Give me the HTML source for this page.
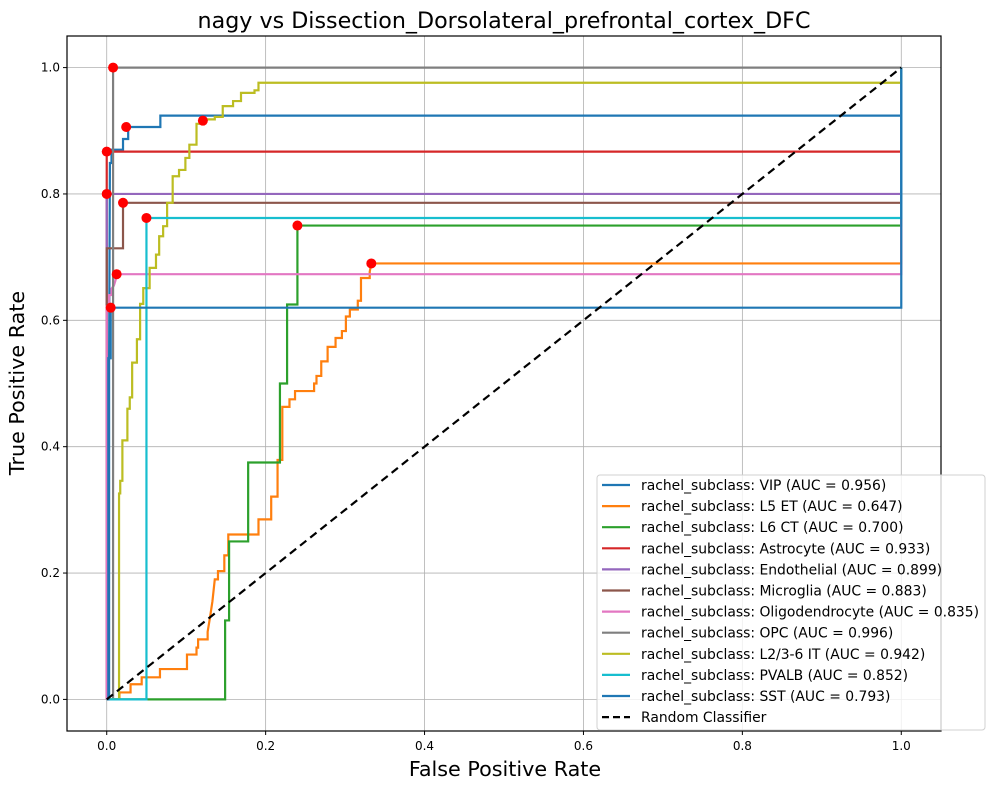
<!DOCTYPE html>
<html><head><meta charset="utf-8"><style>
body{margin:0;background:#fff;}
svg{display:block;font-family:"DejaVu Sans","Liberation Sans",sans-serif;}
</style></head><body>
<svg id="chart" width="994" height="790" viewBox="0 0 994 790" xmlns="http://www.w3.org/2000/svg">
<rect width="994" height="790" fill="#fff"/>
<text x="504" y="28" text-anchor="middle" font-size="22.2" fill="#000">nagy vs Dissection_Dorsolateral_prefrontal_cortex_DFC</text>
<g id="grid"></g>
<g id="series"></g>
<g id="dots"></g>
<rect x="67" y="36" width="874" height="695" fill="none" stroke="#000" stroke-width="1.2"/>
<g id="ticks"></g>
<text x="505" y="776" text-anchor="middle" font-size="20.7" fill="#000">False Positive Rate</text>
<text transform="translate(24,383) rotate(-90)" text-anchor="middle" font-size="20.7" fill="#000">True Positive Rate</text>
<g id="legend"></g>
</svg>
<script>
const xTicks=[0,0.2,0.4,0.6,0.8,1.0];
const yTicks=[0,0.2,0.4,0.6,0.8,1.0];
const tickLabels=["0.0","0.2","0.4","0.6","0.8","1.0"];
const seriesNames=["rachel_subclass: VIP (AUC = 0.956)","rachel_subclass: L5 ET (AUC = 0.647)","rachel_subclass: L6 CT (AUC = 0.700)","rachel_subclass: Astrocyte (AUC = 0.933)","rachel_subclass: Endothelial (AUC = 0.899)","rachel_subclass: Microglia (AUC = 0.883)","rachel_subclass: Oligodendrocyte (AUC = 0.835)","rachel_subclass: OPC (AUC = 0.996)","rachel_subclass: L2/3-6 IT (AUC = 0.942)","rachel_subclass: PVALB (AUC = 0.852)","rachel_subclass: SST (AUC = 0.793)"];
const colors=["#1f77b4","#ff7f0e","#2ca02c","#d62728","#9467bd","#8c564b","#e377c2","#7f7f7f","#bcbd22","#17becf","#1f77b4"];
const vipPts=[[0,0],[0.003,0],[0.003,0.54],[0.004,0.849],[0.006,0.849],[0.006,0.87],[0.0205,0.87],[0.0205,0.887],[0.027,0.887],[0.027,0.906],[0.0675,0.906],[0.0675,0.924],[1,0.924],[1,1]];
const l5Pts=[[0,0],[0.016,0],[0.016,0.011],[0.030,0.011],[0.030,0.024],[0.044,0.024],[0.044,0.035],[0.067,0.035],[0.067,0.048],[0.101,0.048],[0.101,0.071],[0.113,0.071],[0.113,0.082],[0.115,0.082],[0.115,0.095],[0.127,0.095],[0.127,0.107],[0.13,0.13],[0.133,0.155],[0.136,0.19],[0.140,0.19],[0.140,0.203],[0.148,0.203],[0.148,0.228],[0.153,0.228],[0.153,0.261],[0.191,0.261],[0.191,0.285],[0.207,0.285],[0.207,0.321],[0.215,0.321],[0.215,0.379],[0.221,0.379],[0.221,0.463],[0.230,0.463],[0.230,0.475],[0.237,0.475],[0.237,0.488],[0.261,0.488],[0.261,0.5],[0.264,0.5],[0.264,0.512],[0.270,0.512],[0.270,0.535],[0.278,0.535],[0.278,0.558],[0.288,0.558],[0.288,0.572],[0.296,0.572],[0.296,0.583],[0.301,0.583],[0.301,0.606],[0.306,0.606],[0.306,0.617],[0.316,0.617],[0.316,0.631],[0.320,0.631],[0.320,0.667],[0.331,0.667],[0.331,0.677],[0.333,0.69],[1,0.69],[1,1]];
const l6Pts=[[0,0],[0.149,0],[0.149,0.125],[0.154,0.125],[0.154,0.25],[0.178,0.25],[0.178,0.375],[0.218,0.375],[0.218,0.5],[0.227,0.5],[0.227,0.625],[0.240,0.625],[0.240,0.75],[1,0.75],[1,1]];
const astroPts=[[0,0],[0,0.867],[1,0.867],[1,1]];
const endoPts=[[0,0],[0,0.8],[1,0.8],[1,1]];
const microPts=[[0,0],[0,0.714],[0.0205,0.714],[0.0205,0.786],[1,0.786],[1,1]];
const oligoPts=[[0,0],[0,0.622],[0.003,0.622],[0.003,0.64],[0.006,0.64],[0.006,0.65],[0.009,0.655],[0.011,0.663],[0.0125,0.673],[1,0.673],[1,1]];
const opcPts=[[0,0],[0.008,0],[0.008,1],[1,1]];
const itPts=[[0,0],[0.0155,0],[0.0155,0.326],[0.017,0.326],[0.017,0.346],[0.0197,0.346],[0.0197,0.41],[0.026,0.41],[0.026,0.46],[0.029,0.46],[0.029,0.478],[0.032,0.478],[0.032,0.533],[0.038,0.533],[0.038,0.57],[0.042,0.57],[0.042,0.626],[0.046,0.626],[0.046,0.651],[0.054,0.651],[0.054,0.683],[0.062,0.683],[0.062,0.704],[0.066,0.704],[0.066,0.733],[0.071,0.733],[0.071,0.749],[0.076,0.749],[0.076,0.786],[0.083,0.786],[0.083,0.828],[0.091,0.828],[0.091,0.838],[0.099,0.838],[0.099,0.857],[0.104,0.857],[0.104,0.878],[0.113,0.878],[0.113,0.911],[0.123,0.911],[0.123,0.918],[0.136,0.918],[0.136,0.922],[0.146,0.922],[0.146,0.939],[0.159,0.939],[0.159,0.947],[0.169,0.947],[0.169,0.960],[0.186,0.960],[0.186,0.964],[0.191,0.964],[0.191,0.976],[1,0.976],[1,1]];
const pvalbPts=[[0,0],[0.05,0],[0.05,0.762],[1,0.762],[1,1]];
const sstPts=[[0,0],[0.002,0],[0.002,0.54],[0.005,0.54],[0.005,0.62],[1,0.62],[1,1]];
const optimalX=[0.0245,0.333,0.240,0,0,0.0205,0.0125,0.008,0.121,0.05,0.005];
const optimalY=[0.906,0.69,0.75,0.867,0.8,0.786,0.673,1,0.916,0.762,0.62];
const allSeries=[vipPts,l5Pts,l6Pts,astroPts,endoPts,microPts,oligoPts,opcPts,itPts,pvalbPts,sstPts];
const seriesKeys=["vip","l5-et","l6-ct","astrocyte","endothelial","microglia","oligodendrocyte","opc","l23-6-it","pvalb","sst"];

const NS="http://www.w3.org/2000/svg";
const X0=67,X1=941,Y0=731,Y1=36;
function sx(v){return X0+(v+0.05)/1.1*(X1-X0);}
function sy(v){return Y0-(v+0.05)/1.1*(Y0-Y1);}
function mk(tag,attrs,parent){const e=document.createElementNS(NS,tag);for(const k in attrs)e.setAttribute(k,attrs[k]);parent.appendChild(e);return e;}
const grid=document.getElementById('grid'),ticks=document.getElementById('ticks');
xTicks.forEach((t,i)=>{
  const g=mk('line',{x1:sx(t),x2:sx(t),y1:Y1,y2:Y0,stroke:'#b0b0b0','stroke-width':0.8},grid);
  
  
  mk('line',{x1:sx(t),x2:sx(t),y1:Y0,y2:Y0+4,stroke:'#000'},ticks);
  const tx=mk('text',{x:sx(t),y:Y0+19,'text-anchor':'middle','font-size':12},ticks);
  tx.textContent=tickLabels[i];
  
  
});
yTicks.forEach((t,i)=>{
  const g=mk('line',{x1:X0,x2:X1,y1:sy(t),y2:sy(t),stroke:'#b0b0b0','stroke-width':0.8},grid);
  
  
  mk('line',{x1:X0-4,x2:X0,y1:sy(t),y2:sy(t),stroke:'#000'},ticks);
  const tx=mk('text',{x:X0-7,y:sy(t)+4,'text-anchor':'end','font-size':12},ticks);
  tx.textContent=tickLabels[i];
  
  
});
const sg=document.getElementById('series');
allSeries.forEach((pts,i)=>{
  const p=mk('polyline',{points:pts.map(q=>sx(q[0])+','+sy(q[1])).join(' '),fill:'none',stroke:colors[i],'stroke-width':2.2},sg);
  
  
});
const diag=mk('line',{x1:sx(0),y1:sy(0),x2:sx(1),y2:sy(1),stroke:'#000','stroke-width':2.2,'stroke-dasharray':'8,5'},sg);


const dg=document.getElementById('dots');
optimalX.forEach((x,i)=>{
  const c=mk('circle',{cx:sx(x),cy:sy(optimalY[i]),r:5,fill:'#ff0000'},dg);
  
  
});
const lg=document.getElementById('legend');
const box=mk('rect',{x:597,y:475,width:388,height:255,rx:3,fill:'#fff','fill-opacity':0.8,stroke:'#d0d0d0'},lg);


const names=seriesNames.concat(["Random Classifier"]);
names.forEach((n,i)=>{
  const y=485+i*21.1;
  const ln=mk('line',{x1:602,x2:630,y1:y,y2:y,stroke:i<11?colors[i]:'#000','stroke-width':2.2},lg);
  if(i==11)ln.setAttribute('stroke-dasharray','7,4');
  
  
  const t=mk('text',{x:641,y:y+5,'font-size':13.9,fill:'#000'},lg);
  t.textContent=n;
  
  
});
</script>
</body></html>
